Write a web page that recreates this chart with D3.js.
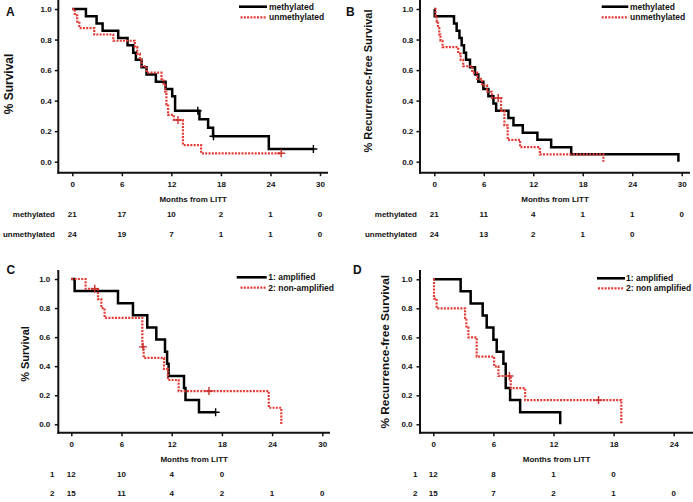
<!DOCTYPE html>
<html><head><meta charset="utf-8">
<script src="https://cdn.jsdelivr.net/npm/d3@7/dist/d3.min.js"></script>
<style>
body{margin:0;background:#fff}
svg{display:block}
text{font-family:"Liberation Sans",Arial,Helvetica,sans-serif;font-weight:bold;fill:#111}
</style>
</head><body>
<svg id="chart" width="693" height="502"></svg>
<script>
// ---------------- DATA ----------------
const yTickValues = [0, 0.2, 0.4, 0.6, 0.8, 1.0];
const xTicks30 = [0, 6, 12, 18, 24, 30];
const xTicks24 = [0, 6, 12, 18, 24];

// Panel A: overall survival by methylation
const aMethTime = [0,1.65,2.94,3.67,5.56,6.69,7.38,7.70,8.39,8.99,10.12,11.3,12.1,12.45,15.4,16.45,17.05,23.8,29.2];
const aMethSurv = [1,0.952,0.905,0.857,0.810,0.762,0.714,0.667,0.619,0.571,0.524,0.476,0.429,0.333,0.278,0.222,0.167,0.083,0.083];
const aMethCensor = [[15.2,0.333],[17.1,0.167],[29.2,0.083]];
const aUnmTime = [0,0.3,0.6,0.85,2.66,4.96,7.58,7.86,8.19,8.39,8.99,10.8,11.05,11.25,11.4,11.6,12.3,13.4,15.6,25.3];
const aUnmSurv = [1,0.958,0.917,0.875,0.833,0.792,0.75,0.708,0.667,0.625,0.583,0.542,0.5,0.458,0.375,0.306,0.273,0.109,0.055,0.055];
const aUnmCensor = [[12.8,0.273],[25.3,0.055]];
const aRiskMeth = [21,17,10,2,1,0];
const aRiskUnm = [24,19,7,1,1,0];

// Panel B: recurrence-free survival by methylation
const bMethTime = [0,0.05,2.39,2.71,3.05,3.32,3.6,3.85,4.33,4.94,5.34,5.95,6.56,7.17,7.5,8.99,9.6,10.73,12.5,14.17,16.6,29.6];
const bMethSurv = [1,0.952,0.905,0.857,0.81,0.762,0.714,0.667,0.619,0.571,0.524,0.476,0.429,0.381,0.333,0.286,0.238,0.19,0.143,0.095,0.048,0];
const bMethCensor = [];
const bUnmTime = [0,0.15,0.3,0.45,0.6,0.75,1.0,2.9,3.2,3.5,4.6,5.2,5.8,6.4,7.0,8.1,8.5,8.9,10.4,12.8,20.5];
const bUnmSurv = [1,0.958,0.917,0.875,0.833,0.792,0.75,0.708,0.667,0.625,0.583,0.542,0.5,0.458,0.417,0.333,0.238,0.143,0.095,0.048,0];
const bUnmCensor = [[7.75,0.417]];
const bRiskMeth = [21,11,4,1,1,0];
const bRiskUnm = [24,13,2,1,0];

// Panel C: overall survival by amplification
const cAmpTime = [0,0.4,5.58,7.37,9.08,10.16,11.2,11.45,11.63,13.47,13.65,15.26,17.25];
const cAmpSurv = [1,0.917,0.833,0.75,0.667,0.583,0.5,0.417,0.333,0.25,0.167,0.083,0.083];
const cAmpCensor = [[17.25,0.083]];
const cNonTime = [0,1.71,3.19,3.59,3.98,8.49,8.65,11.08,11.55,12.83,23.6,25.1];
const cNonSurv = [1,0.933,0.862,0.8,0.733,0.533,0.457,0.381,0.305,0.229,0.114,0];
const cNonCensor = [[2.8,0.933],[8.57,0.533],[16.45,0.229]];
const cRisk1 = [12,10,4,0];
const cRisk2 = [15,11,4,2,1,0];

// Panel D: recurrence-free survival by amplification
const dAmpTime = [0,2.73,3.73,4.93,5.33,6.0,6.33,7.0,7.23,7.67,8.67,12.67];
const dAmpSurv = [1,0.917,0.833,0.75,0.667,0.583,0.5,0.417,0.25,0.167,0.083,0];
const dAmpCensor = [];
const dNonTime = [0,0.07,0.33,3.17,3.3,3.5,4.33,6.07,6.5,7.73,9.17,18.77];
const dNonSurv = [1,0.867,0.8,0.733,0.667,0.6,0.467,0.4,0.333,0.25,0.167,0];
const dNonCensor = [[7.6,0.333],[16.5,0.167]];
const dRisk1 = [12,8,1,0];
const dRisk2 = [15,7,2,1,0];

// ---------------- DRAWING ----------------
const RED = "#e23b36";
const svg = d3.select("#chart");
svg.append("rect").attr("width",693).attr("height",502).attr("fill","#fff");

function drawPanel(p){
  const g = svg.append("g");
  const x = d3.scaleLinear().domain([0,p.xMax]).range([p.x0,p.x1]);
  const y = d3.scaleLinear().domain([0,1]).range([p.yBot,p.yTop]);

  // y axis
  const ya = g.append("g").attr("transform",`translate(${p.axisX},0)`)
    .call(d3.axisLeft(y).tickValues(yTickValues).tickFormat(d3.format(".1f")).tickSize(3.5).tickPadding(p.yPad));
  ya.select(".domain").remove();
  ya.selectAll(".tick line").attr("stroke","#111").attr("stroke-width",1.5);
  ya.selectAll(".tick text").attr("font-size",8).attr("font-family",null);
  // x axis
  const xa = g.append("g").attr("transform",`translate(0,${p.axisY})`)
    .call(d3.axisBottom(x).tickValues(p.xTicks).tickFormat(d3.format("d")).tickSize(3.5).tickPadding(5.2));
  xa.select(".domain").remove();
  xa.selectAll(".tick line").attr("stroke","#111").attr("stroke-width",1.5);
  xa.selectAll(".tick text").attr("font-size",8).attr("font-family",null);
  // axis lines
  g.append("line").attr("x1",p.axisX).attr("x2",p.axisX).attr("y1",p.yAxisTop).attr("y2",p.axisY+1)
    .attr("stroke","#111").attr("stroke-width",2);
  g.append("line").attr("x1",p.axisX-1).attr("x2",p.axisXEnd).attr("y1",p.axisY).attr("y2",p.axisY)
    .attr("stroke","#111").attr("stroke-width",2);

  // curves
  const line = d3.line().x(d=>x(d[0])).y(d=>y(d[1])).curve(d3.curveStepAfter);
  p.series.forEach(s=>{
    const pts = d3.zip(s.time,s.surv);
    g.append("path").attr("d",line(pts)).attr("fill","none")
      .attr("stroke",s.red?RED:"#000").attr("stroke-width",s.red?2.2:2.5)
      .attr("stroke-dasharray",s.red?"2,1.3":null);
    s.censor.forEach(c=>{
      const cx=x(c[0]), cy=y(c[1]);
      g.append("path").attr("d",`M${cx-4},${cy}h8M${cx},${cy-4}v8`)
        .attr("stroke",s.red?"#c8302c":"#000").attr("stroke-width",1.4).attr("fill","none");
    });
  });

  // legend
  p.legend.forEach(l=>{
    g.append("line").attr("x1",l.x1).attr("x2",l.x2).attr("y1",l.y).attr("y2",l.y)
      .attr("stroke",l.red?RED:"#000").attr("stroke-width",l.red?2.2:2.6)
      .attr("stroke-dasharray",l.red?"2,1.3":null);
    g.append("text").attr("x",l.tx).attr("y",l.y+3).attr("font-size",8.5).text(l.label);
  });

  // panel letter
  g.append("text").attr("x",p.letterX).attr("y",p.letterY).attr("font-size",12).text(p.letter);
  // y label
  g.append("text").attr("transform",`translate(${p.ylabX},${p.ylabY}) rotate(-90)`)
    .attr("text-anchor","middle").attr("dominant-baseline","central")
    .attr("font-size",p.ylabSize).text(p.ylabel);
  // x title
  g.append("text").attr("x",(p.axisX+p.axisXEnd)/2).attr("y",p.titleY+3)
    .attr("text-anchor","middle").attr("font-size",8).text("Months from LITT");
  // risk table
  p.risk.forEach(r=>{
    g.append("text").attr("x",p.rowLabX).attr("y",r.y+3).attr("text-anchor","end")
      .attr("font-size",8).text(r.label);
    r.values.forEach((v,i)=>{
      g.append("text").attr("x",x(p.xTicks[i])).attr("y",r.y+3).attr("text-anchor","middle")
        .attr("font-size",8).text(v);
    });
  });
}

drawPanel({
  x0:72.3, x1:320, xMax:30, xTicks:xTicks30, yTop:9, yBot:161.7,
  axisX:58.3, axisY:172.7, axisXEnd:328, yAxisTop:0, yPad:3.2,
  series:[
    {time:aMethTime, surv:aMethSurv, censor:aMethCensor, red:false},
    {time:aUnmTime, surv:aUnmSurv, censor:aUnmCensor, red:true}],
  legend:[
    {x1:239,x2:267,y:6.7,tx:269,label:"methylated",red:false},
    {x1:240.5,x2:267,y:17.3,tx:269,label:"unmethylated",red:true}],
  letter:"A", letterX:6, letterY:16,
  ylabel:"% Survival", ylabX:8.5, ylabY:84, ylabSize:12,
  titleY:198.5, rowLabX:55,
  risk:[{label:"methylated",y:214,values:aRiskMeth},{label:"unmethylated",y:234,values:aRiskUnm}]
});

drawPanel({
  x0:434.3, x1:681.7, xMax:30, xTicks:xTicks30, yTop:9, yBot:161.7,
  axisX:420, axisY:172.7, axisXEnd:690, yAxisTop:0, yPad:3.2,
  series:[
    {time:bMethTime, surv:bMethSurv, censor:bMethCensor, red:false},
    {time:bUnmTime, surv:bUnmSurv, censor:bUnmCensor, red:true}],
  legend:[
    {x1:601.7,x2:628.3,y:6.7,tx:630,label:"methylated",red:false},
    {x1:601.7,x2:628.3,y:17.3,tx:630,label:"unmethylated",red:true}],
  letter:"B", letterX:346, letterY:16,
  ylabel:"% Recurrence-free Survival", ylabX:368.3, ylabY:81, ylabSize:11,
  titleY:199, rowLabX:417,
  risk:[{label:"methylated",y:214,values:bRiskMeth},{label:"unmethylated",y:233.5,values:bRiskUnm}]
});

drawPanel({
  x0:71.3, x1:322.3, xMax:30, xTicks:xTicks30, yTop:279, yBot:424.3,
  axisX:58.3, axisY:432.7, axisXEnd:330, yAxisTop:270, yPad:4.5,
  series:[
    {time:cAmpTime, surv:cAmpSurv, censor:cAmpCensor, red:false},
    {time:cNonTime, surv:cNonSurv, censor:cNonCensor, red:true}],
  legend:[
    {x1:236.7,x2:266.7,y:277.3,tx:268.3,label:"1: amplified",red:false},
    {x1:240.5,x2:266.7,y:287.7,tx:268.3,label:"2: non-amplified",red:true}],
  letter:"C", letterX:6.5, letterY:274,
  ylabel:"% Survival", ylabX:25, ylabY:354, ylabSize:11,
  titleY:459.3, rowLabX:54.5,
  risk:[{label:"1",y:474,values:cRisk1},{label:"2",y:493.3,values:cRisk2}]
});

drawPanel({
  x0:433.3, x1:673.7, xMax:24, xTicks:xTicks24, yTop:279.3, yBot:424.3,
  axisX:420, axisY:432.7, axisXEnd:693, yAxisTop:270, yPad:4,
  series:[
    {time:dAmpTime, surv:dAmpSurv, censor:dAmpCensor, red:false},
    {time:dNonTime, surv:dNonSurv, censor:dNonCensor, red:true}],
  legend:[
    {x1:597,x2:625,y:278.3,tx:626,label:"1: amplified",red:false},
    {x1:598,x2:624,y:288.3,tx:626,label:"2: non amplified",red:true}],
  letter:"D", letterX:353, letterY:274,
  ylabel:"% Recurrence-free Survival", ylabX:385, ylabY:351.7, ylabSize:11.8,
  titleY:459.3, rowLabX:417.5,
  risk:[{label:"1",y:474,values:dRisk1},{label:"2",y:493.3,values:dRisk2}]
});
</script>
</body></html>
